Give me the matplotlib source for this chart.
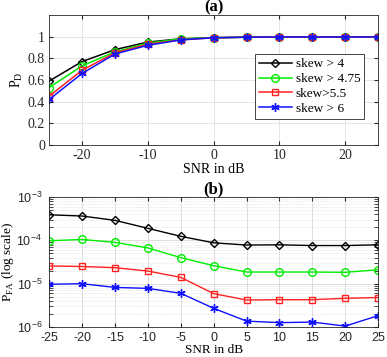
import matplotlib
matplotlib.use('Agg')
from matplotlib import pyplot as plt
import numpy as np

plt.rcParams['font.family'] = ['Liberation Serif', 'DejaVu Serif']
plt.rcParams['mathtext.fontset'] = 'custom'
plt.rcParams['mathtext.rm'] = 'Liberation Serif'
plt.rcParams['font.size'] = 10
plt.rcParams['axes.unicode_minus'] = False

snr = [-25, -20, -15, -10, -5, 0, 5, 10, 15, 20, 25]

# detection probability
pd_4 = [0.59, 0.77, 0.88, 0.95, 0.98, 0.99, 0.995, 0.997, 0.997, 0.997, 0.997]
pd_475 = [0.53, 0.73, 0.86, 0.94, 0.98, 0.99, 0.995, 0.997, 0.997, 0.997, 0.997]
pd_55 = [0.45, 0.69, 0.85, 0.93, 0.97, 0.99, 0.995, 0.997, 0.997, 0.997, 0.997]
pd_6 = [0.42, 0.66, 0.84, 0.92, 0.97, 0.99, 0.995, 0.997, 0.997, 0.997, 0.997]

# false alarm probability
pfa_4 = [3.9e-4, 3.65e-4, 2.9e-4, 1.9e-4, 1.24e-4, 8.8e-5, 7.8e-5, 7.9e-5, 7.6e-5, 7.6e-5, 7.9e-5]
pfa_475 = [9.8e-5, 1.05e-4, 9.0e-5, 6.7e-5, 4.0e-5, 2.6e-5, 1.86e-5, 1.86e-5, 1.86e-5, 1.83e-5, 2.1e-5]
pfa_55 = [2.56e-5, 2.5e-5, 2.34e-5, 1.96e-5, 1.4e-5, 5.9e-6, 4.2e-6, 4.27e-6, 4.27e-6, 4.6e-6, 4.8e-6]
pfa_6 = [9.7e-6, 1.0e-5, 8.2e-6, 7.8e-6, 6.0e-6, 2.7e-6, 1.37e-6, 1.26e-6, 1.3e-6, 1.05e-6, 1.83e-6]

labels = ['skew > 4', 'skew > 4.75', 'skew>5.5', 'skew > 6']
colors = ['black', '#00ee00', '#ff2020', '#1010ff']
markers = ['D', 'o', 's', (6, 2, 0)]
msizes = [4, 5.5, 5, 6]

fig = plt.figure(figsize=(3.87, 3.57), dpi=100)
ax1 = fig.add_axes([0.127, 0.594, 0.850, 0.364])
ax2 = fig.add_axes([0.127, 0.084, 0.850, 0.364])

for ax in (ax1, ax2):
    ax.set_axisbelow(True)
    ax.tick_params(direction='in', which='both', top=True, right=True, length=3, pad=3, colors='#262626')
    for s in ax.spines.values():
        s.set_color('#262626')
        s.set_linewidth(0.6)

# (a)
for y, c, m, ms, lab in zip([pd_4, pd_475, pd_55, pd_6], colors, markers, msizes, labels):
    ax1.plot(snr, y, '--', dashes=(5, 3), color=c, marker=m, ms=ms, mfc='none', mec=c,
             mew=1.0, lw=1.1, label=lab)
ax1.set_xlim(-25, 25)
ax1.set_ylim(0, 1.2)
ax1.set_xticks([-20, -10, 0, 10, 20])
ax1.set_yticks([0, 0.2, 0.4, 0.6, 0.8, 1])
ax1.set_yticklabels(['0', '0.2', '0.4', '0.6', '0.8', '1'])
ax1.grid(True, color='#e0e0e0', lw=0.6)
ax1.set_xlabel('SNR in dB', labelpad=1)
ax1.set_ylabel(r'P$_{\rm D}$', labelpad=2)
ax1.set_title('(a)', fontweight='bold', pad=2)
handles, labs = ax1.get_legend_handles_labels()
for h in handles:
    h.set_linestyle('-')
leg = ax1.legend(handles, labs, loc='lower left', bbox_to_anchor=(0.605, 0.15), fancybox=False,
                 framealpha=1, edgecolor='#262626', borderpad=0.3, labelspacing=0.2,
                 handlelength=2.5, handletextpad=0.3, fontsize=9.5)
leg.get_frame().set_linewidth(0.6)

# (b)
for y, c, m, ms in zip([pfa_4, pfa_475, pfa_55, pfa_6], colors, markers, msizes):
    ax2.semilogy(snr, y, '-', color=c, marker=m, ms=ms, mfc='none', mec=c, mew=1.0, lw=1.0)
ax2.set_xlim(-25, 25)
ax2.set_ylim(1e-6, 1e-3)
ax2.set_xticks(snr)
ax2.tick_params(axis='x', which='both', pad=3.5)
ax2.tick_params(axis='y', which='both', pad=5)
for t in ax2.get_xticklabels() + ax2.get_yticklabels():
    t.set_fontfamily('Liberation Sans')
    t.set_fontsize(9)
ax2.grid(True, which='major', color='#d8d8d8', lw=0.6)
ax2.grid(True, which='minor', color='#d8d8d8', lw=0.5, ls=':')
ax2.set_xlabel('SNR in dB', labelpad=0, fontsize=9.5)
ax2.set_ylabel(r'P$_{\rm FA}$ (log scale)', labelpad=0, fontsize=9.5)
ax2.set_title('(b)', fontweight='bold', pad=2)

plt.savefig('out.png', dpi=100)
plt.close()
